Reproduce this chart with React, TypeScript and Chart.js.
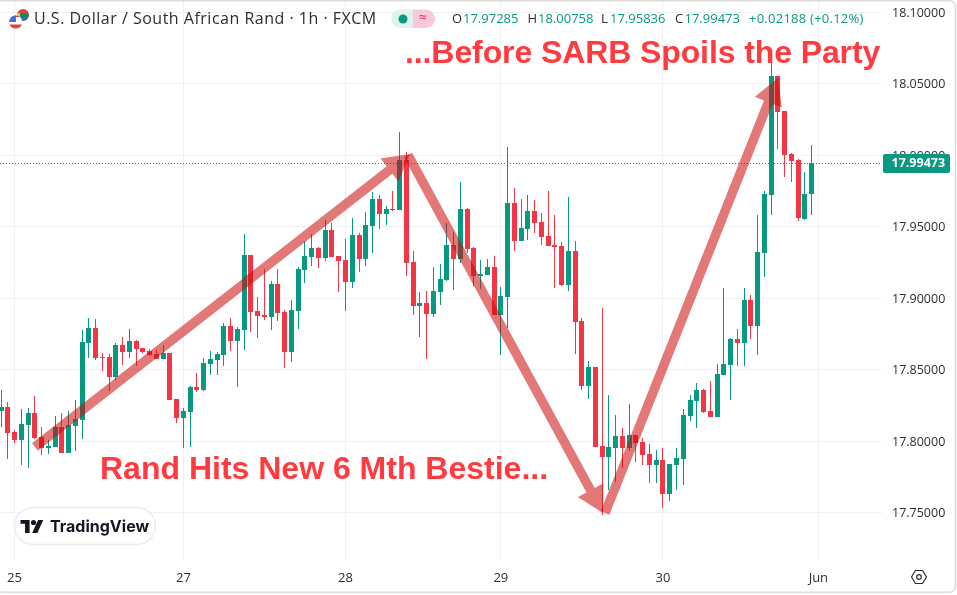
import React, { useEffect, useRef } from "react";
import { Chart, registerables } from "chart.js";

Chart.register(...registerables);

const opens = [17.8211,17.8239,17.8064,17.8008,17.8113,17.8197,17.8028,17.7951,17.7958,17.8098,17.7916,17.8105,17.8148,17.8687,17.8792,17.8589,17.8589,17.8448,17.8673,17.8624,17.8701,17.8652,17.8631,17.8610,17.8575,17.8617,17.8295,17.8162,17.8204,17.8378,17.8357,17.8540,17.8568,17.8603,17.8805,17.8701,17.8778,17.9302,17.8911,17.8883,17.8869,17.9100,17.8904,17.8624,17.8911,17.9198,17.9289,17.9352,17.9282,17.9478,17.9295,17.9268,17.9114,17.9443,17.9274,17.9505,17.9694,17.9589,17.9624,17.9617,17.9967,17.9253,17.8946,17.8967,17.8890,17.9044,17.9128,17.9373,17.9274,17.9624,17.9352,17.9155,17.9163,17.9218,17.8883,17.9008,17.9666,17.9400,17.9485,17.9611,17.9534,17.9435,17.9373,17.9366,17.9093,17.9331,17.8841,17.8386,17.8518,17.7966,17.7888,17.7951,17.8035,17.7951,17.8042,17.7993,17.7910,17.7833,17.7868,17.7630,17.7833,17.7875,17.8176,17.8281,17.8358,17.8211,17.8169,17.8463,17.8532,17.8714,17.8686,17.8988,17.8805,17.9317,17.9723,18.0556,18.0310,18.0010,17.9967,17.9554,17.97285];
const highs = [17.8358,17.8274,17.8078,17.8225,17.8232,17.8316,17.8098,17.8008,17.8176,17.8197,17.8211,17.8288,17.8778,17.8862,17.8855,17.8617,17.8610,17.8687,17.8729,17.8785,17.8708,17.8652,17.8645,17.8638,17.8673,17.8617,17.8295,17.8232,17.8385,17.8476,17.8582,17.8630,17.8624,17.8826,17.8862,17.8798,17.9449,17.9302,17.9008,17.9205,17.9120,17.9205,17.8918,17.8988,17.9219,17.9401,17.9449,17.9359,17.9548,17.9527,17.9295,17.9415,17.9562,17.9456,17.9604,17.9743,17.9722,17.9645,17.9750,18.0163,18.0024,17.9330,17.9044,17.9051,17.9219,17.9240,17.9527,17.9464,17.9814,17.9631,17.9358,17.9268,17.9274,17.9295,17.9078,18.0058,17.9772,17.9694,17.9722,17.9687,17.9596,17.9750,17.9583,17.9394,17.9708,17.9400,17.8862,17.8560,17.8518,17.8931,17.8322,17.8182,17.8092,17.8260,17.8042,17.8021,17.7979,17.7937,17.7951,17.7840,17.7951,17.8225,17.8322,17.8406,17.8365,17.8421,17.8540,17.9072,17.8721,17.8785,17.9072,17.9022,17.9582,17.9750,18.0654,18.0556,18.0310,18.0017,17.9975,17.9883,18.00758];
const lows = [17.8099,17.7874,17.7986,17.7833,17.7811,17.8015,17.7903,17.7910,17.7958,17.7916,17.7916,17.7930,17.8015,17.8582,17.8568,17.8491,17.8350,17.8427,17.8533,17.8582,17.8526,17.8617,17.8596,17.8575,17.8575,17.8288,17.8127,17.7951,17.7958,17.8343,17.8350,17.8463,17.8463,17.8526,17.8630,17.8378,17.8638,17.8764,17.8722,17.8848,17.8778,17.8841,17.8512,17.8554,17.8785,17.9107,17.9226,17.9212,17.9261,17.9289,17.9044,17.8911,17.9072,17.9184,17.9226,17.9316,17.9484,17.9513,17.9610,17.9617,17.9156,17.8883,17.8728,17.8575,17.8868,17.8953,17.9121,17.9058,17.9246,17.9316,17.9085,17.9064,17.9163,17.8883,17.8603,17.8792,17.9330,17.9400,17.9408,17.9456,17.9373,17.9366,17.9072,17.9085,17.9051,17.8610,17.8358,17.8295,17.7958,17.7482,17.7657,17.7713,17.7811,17.7930,17.7854,17.7833,17.7707,17.7707,17.7532,17.7581,17.7657,17.7693,17.8141,17.8092,17.8197,17.8169,17.8169,17.8463,17.8288,17.8526,17.8526,17.8714,17.8603,17.9148,17.9583,18.0045,17.9848,17.9814,17.9541,17.9547,17.95836];
const closes = [17.8239,17.8057,17.8008,17.8120,17.8197,17.8022,17.7951,17.7966,17.8098,17.7916,17.8113,17.8154,17.8694,17.8792,17.8582,17.8582,17.8448,17.8673,17.8624,17.8701,17.8645,17.8624,17.8603,17.8575,17.8617,17.8288,17.8162,17.8211,17.8378,17.8357,17.8547,17.8575,17.8610,17.8805,17.8701,17.8784,17.9302,17.8904,17.8876,17.8869,17.9100,17.8897,17.8624,17.8918,17.9205,17.9295,17.9352,17.9282,17.9478,17.9289,17.9261,17.9114,17.9443,17.9274,17.9513,17.9694,17.9589,17.9624,17.9617,17.9967,17.9247,17.8946,17.8967,17.8890,17.9051,17.9135,17.9373,17.9274,17.9624,17.9344,17.9155,17.9170,17.9218,17.8883,17.9015,17.9666,17.9400,17.9491,17.9611,17.9527,17.9429,17.9366,17.9359,17.9093,17.9331,17.8834,17.8386,17.8518,17.7958,17.7888,17.7958,17.8035,17.7951,17.8042,17.7986,17.7903,17.7833,17.7868,17.7630,17.7840,17.7882,17.8183,17.8288,17.8358,17.8204,17.8169,17.8470,17.8540,17.8714,17.8686,17.8988,17.8805,17.9323,17.9730,18.0556,18.0303,18.0003,17.9961,17.9562,17.9730,17.99473];

const priceTicks = [17.75, 17.8, 17.85, 17.9, 17.95, 18.0, 18.05, 18.1];
const dayTickIndex = [2, 27, 51, 74, 98, 121];
const dayTickLabels = ["25", "27", "28", "29", "30", "Jun"];

const arrowTailIndex = [5.03, 60.25, 89.42];
const arrowTailPrice = [17.79585, 18.00025, 17.74965];
const arrowTipIndex = [60.55, 89.12, 115.02];
const arrowTipPrice = [18.00095, 17.74965, 18.05415];

const lastPrice = 17.99473;
const titleText = "U.S. Dollar / South African Rand · 1h · FXCM";
const topNote = "...Before SARB Spoils the Party";
const bottomNote = "Rand Hits New 6 Mth Bestie...";
const quoteLabels = ["O", "H", "L", "C"];
const quoteValues = ["17.97285", "18.00758", "17.95836", "17.99473"];
const changeText = "+0.02188 (+0.12%)";

const GREEN = "#089981";
const RED = "#F23645";
const GRID = "#f1f1f3";
const TEXT = "#2e2e2e";
const UI_FONT = '"Open Sans", sans-serif';

const candleIdx = opens.map((_, i) => i);
const colors = candleIdx.map((i) => (closes[i] >= opens[i] ? GREEN : RED));

function poly(ctx: CanvasRenderingContext2D, pts: number[][]) {
  ctx.beginPath();
  pts.forEach((p, i) => (i ? ctx.lineTo(p[0], p[1]) : ctx.moveTo(p[0], p[1])));
  ctx.closePath();
  ctx.fill();
}

function zeroPad(s: any) {
  s.paddingLeft = 0;
  s.paddingRight = 0;
  s.paddingTop = 0;
  s.paddingBottom = 0;
}

const snapBars = {
  id: "snapBars",
  afterDatasetsUpdate(chart: any) {
    chart.data.datasets.forEach((_: any, di: number) => {
      const meta = chart.getDatasetMeta(di);
      if (meta.type === "line") {
        meta.data.forEach((el: any) => {
          el.y = Math.round(el.y) + 0.5;
        });
        return;
      }
      if (meta.type !== "bar") return;
      meta.data.forEach((el: any) => {
        const top = Math.round(Math.min(el.y, el.base));
        let bot = Math.round(Math.max(el.y, el.base));
        if (bot <= top) bot = top + 1;
        el.x = Math.floor(el.x + 1e-6) + 0.5;
        el.y = top;
        el.base = bot;
      });
    });
  },
};

const overlay = {
  id: "overlay",
  afterDraw(chart: any) {
    const { ctx, scales } = chart;
    const xs = scales.x;
    const ys = scales.y;
    ctx.save();

    // arrows
    arrowTailIndex.forEach((_, i) => {
      const ax = xs.getPixelForValue(arrowTailIndex[i]);
      const ay = ys.getPixelForValue(arrowTailPrice[i]);
      const bx = xs.getPixelForValue(arrowTipIndex[i]);
      const by = ys.getPixelForValue(arrowTipPrice[i]);
      const len = Math.hypot(bx - ax, by - ay);
      const ux = (bx - ax) / len;
      const uy = (by - ay) / len;
      const nx = -uy;
      const ny = ux;
      const mx = bx - ux * 26;
      const my = by - uy * 26;
      const w = 4.7;
      const h = 14.5;
      ctx.save();
      ctx.filter = "blur(0.6px)";
      ctx.fillStyle = "rgba(204,10,10,0.55)";
      poly(ctx, [
        [ax + nx * w, ay + ny * w],
        [mx + nx * w, my + ny * w],
        [mx + nx * h, my + ny * h],
        [bx, by],
        [mx - nx * h, my - ny * h],
        [mx - nx * w, my - ny * w],
        [ax - nx * w, ay - ny * w],
      ]);
      ctx.restore();
    });

    // big notes
    ctx.fillStyle = "#ff3b3f";
    ctx.textBaseline = "alphabetic";
    ctx.textAlign = "left";
    ctx.font = 'bold 32px "Liberation Sans", Arial, sans-serif';
    (ctx as any).letterSpacing = "-0.1px";
    ctx.fillText(topNote, 405, 63);
    (ctx as any).letterSpacing = "0px";
    ctx.fillText(bottomNote, 100, 479);

    // title
    ctx.textBaseline = "middle";
    ctx.fillStyle = TEXT;
    ctx.font = "16px " + UI_FONT;
    (ctx as any).letterSpacing = "0.5px";
    ctx.fillText(titleText, 34, 19.5);
    (ctx as any).letterSpacing = "0px";

    // flag
    ctx.save();
    ctx.beginPath();
    ctx.arc(23, 15, 6, 0, Math.PI * 2);
    ctx.clip();
    ctx.fillStyle = "#e3413f";
    ctx.fillRect(16, 8, 14, 5);
    ctx.fillStyle = "#1a8a56";
    ctx.fillRect(16, 13, 14, 4);
    ctx.fillStyle = "#2a6fd0";
    ctx.fillRect(16, 17, 14, 5);
    ctx.fillStyle = "#f2c53d";
    ctx.fillRect(16, 13, 4, 4);
    ctx.restore();
    ctx.save();
    ctx.beginPath();
    ctx.arc(15.7, 22, 6.6, 0, Math.PI * 2);
    ctx.clip();
    ctx.fillStyle = "#fff";
    ctx.fillRect(8, 14, 16, 16);
    ctx.fillStyle = "#e3413f";
    ctx.fillRect(8, 15, 16, 2);
    ctx.fillRect(8, 24.5, 16, 5);
    ctx.fillStyle = "#3b74d8";
    ctx.fillRect(8, 15, 8, 7);
    ctx.restore();

    // status pill
    ctx.fillStyle = "#dff2ef";
    ctx.beginPath();
    ctx.roundRect(391, 9.5, 22, 18.5, [9.25, 0, 0, 9.25]);
    ctx.fill();
    ctx.fillStyle = "#f9c9d8";
    ctx.beginPath();
    ctx.roundRect(413, 9.5, 22, 18.5, [0, 9.25, 9.25, 0]);
    ctx.fill();
    ctx.fillStyle = GREEN;
    ctx.beginPath();
    ctx.arc(403, 19, 4.5, 0, Math.PI * 2);
    ctx.fill();
    ctx.fillStyle = "#e91e63";
    ctx.font = "14px " + UI_FONT;
    ctx.textAlign = "center";
    ctx.fillText("≈", 423, 18.5);
    ctx.textAlign = "left";

    // OHLC
    const labelX = [452, 527.5, 601, 675];
    const valueX = [463, 538, 610, 684.5];
    ctx.font = "13px " + UI_FONT;
    quoteLabels.forEach((t, i) => {
      ctx.fillStyle = TEXT;
      ctx.fillText(t, labelX[i], 19.5);
      ctx.fillStyle = GREEN;
      ctx.fillText(quoteValues[i], valueX[i], 19.5);
    });
    (ctx as any).letterSpacing = "0.25px";
    ctx.fillText(changeText, 749, 19.5);
    (ctx as any).letterSpacing = "0px";

    // last price tag
    ctx.fillStyle = GREEN;
    ctx.beginPath();
    ctx.roundRect(883, 154, 67, 19, [2, 2, 2, 2]);
    ctx.fill();
    ctx.fillStyle = "#ffffff";
    ctx.font = "bold 12.5px " + UI_FONT;
    ctx.fillText(lastPrice.toFixed(5), 891.5, 163.5);

    // TradingView badge
    ctx.fillStyle = "#ffffff";
    ctx.strokeStyle = "#ececec";
    ctx.lineWidth = 1.5;
    ctx.beginPath();
    ctx.roundRect(14.5, 507.5, 141, 37, 18.5);
    ctx.fill();
    ctx.stroke();
    ctx.fillStyle = "#131722";
    const k = 0.65;
    const ox = 20.5;
    const oy = 516;
    poly(ctx, [[14, 6], [0, 6], [0, 12], [7, 12], [7, 26], [14, 26]].map((p) => [ox + p[0] * k, oy + p[1] * k]));
    ctx.beginPath();
    ctx.arc(ox + 20 * k, oy + 10 * k, 4 * k, 0, Math.PI * 2);
    ctx.fill();
    poly(ctx, [[27, 6], [35, 6], [26, 26], [18, 26]].map((p) => [ox + p[0] * k, oy + p[1] * k]));
    ctx.font = 'bold 16px "Inter", sans-serif';
    ctx.textBaseline = "middle";
    ctx.fillText("TradingView", 50, 527);

    // settings hexagon
    ctx.strokeStyle = "#2e2e2e";
    ctx.lineWidth = 1.2;
    ctx.beginPath();
    const hexR = [[-7.5, 0], [-3.5, -6.5], [3.5, -6.5], [7.5, 0], [3.5, 6.5], [-3.5, 6.5]];
    hexR.forEach((p, i) => (i ? ctx.lineTo(919 + p[0], 577 + p[1]) : ctx.moveTo(919 + p[0], 577 + p[1])));
    ctx.closePath();
    ctx.stroke();
    ctx.beginPath();
    ctx.arc(919, 577, 2.3, 0, Math.PI * 2);
    ctx.stroke();

    // frame
    ctx.strokeStyle = "#dcdcdc";
    ctx.lineWidth = 1.5;
    ctx.beginPath();
    ctx.roundRect(-4, 0.75, 959.5, 591.5, 6);
    ctx.stroke();
    ctx.restore();
  },
};

export default function App() {
  const ref = useRef<HTMLCanvasElement | null>(null);
  useEffect(() => {
    document.body.style.margin = "0";
    const xMin = -1 / 6.755;
    const xMax = xMin + 882 / 6.755;
    const yMin = 18.10875 - 0.0007 * 561;
    const yMax = 18.10875;
    const chart = new Chart(ref.current as HTMLCanvasElement, {
      type: "bar",
      data: {
        datasets: [
          {
            type: "bar",
            label: "Body",
            data: candleIdx.map((i) => ({ x: i, y: [opens[i], closes[i]] })),
            backgroundColor: colors,
            barThickness: 5,
            grouped: false,
            inflateAmount: 0,
            order: 1,
          },
          {
            type: "bar",
            label: "Wick",
            data: candleIdx.map((i) => ({ x: i, y: [lows[i], highs[i]] })),
            backgroundColor: colors,
            barThickness: 1,
            grouped: false,
            inflateAmount: 0,
            order: 2,
          },
          {
            type: "line",
            label: "Last",
            data: [
              { x: xMin, y: lastPrice },
              { x: xMax, y: lastPrice },
            ],
            borderColor: GREEN,
            borderWidth: 1,
            borderDash: [1, 2],
            pointRadius: 0,
            order: 3,
          },
        ] as any,
      },
      options: {
        animation: false,
        responsive: false,
        layout: { padding: 0, autoPadding: false },
        plugins: { legend: { display: false }, tooltip: { enabled: false } },
        scales: {
          x: {
            type: "linear",
            offset: false,
            min: xMin,
            max: xMax,
            afterFit: (s: any) => { s.height = 34; zeroPad(s); },
            afterBuildTicks: (s: any) => { s.ticks = dayTickIndex.map((v) => ({ value: v })); },
            border: { display: false },
            grid: { color: GRID, drawTicks: false, offset: false },
            ticks: {
              autoSkip: false,
              maxRotation: 0,
              padding: 9,
              color: TEXT,
              font: { family: UI_FONT, size: 13 },
              callback: (v: any) => dayTickLabels[dayTickIndex.indexOf(Number(v))],
            },
          },
          y: {
            type: "linear",
            position: "right",
            min: yMin,
            max: yMax,
            afterFit: (s: any) => { s.width = 75; zeroPad(s); },
            afterBuildTicks: (s: any) => { s.ticks = priceTicks.map((v) => ({ value: v })); },
            border: { display: false },
            grid: { color: GRID, drawTicks: false },
            ticks: {
              autoSkip: false,
              padding: 10,
              labelOffset: 1,
              color: TEXT,
              font: { family: UI_FONT, size: 12.5 },
              callback: (v: any) => Number(v).toFixed(5),
            },
          },
        },
      } as any,
      plugins: [snapBars, overlay],
    });
    return () => chart.destroy();
  }, []);
  return <canvas ref={ref} width={957} height={595} style={{ display: "block" }} />;
}
